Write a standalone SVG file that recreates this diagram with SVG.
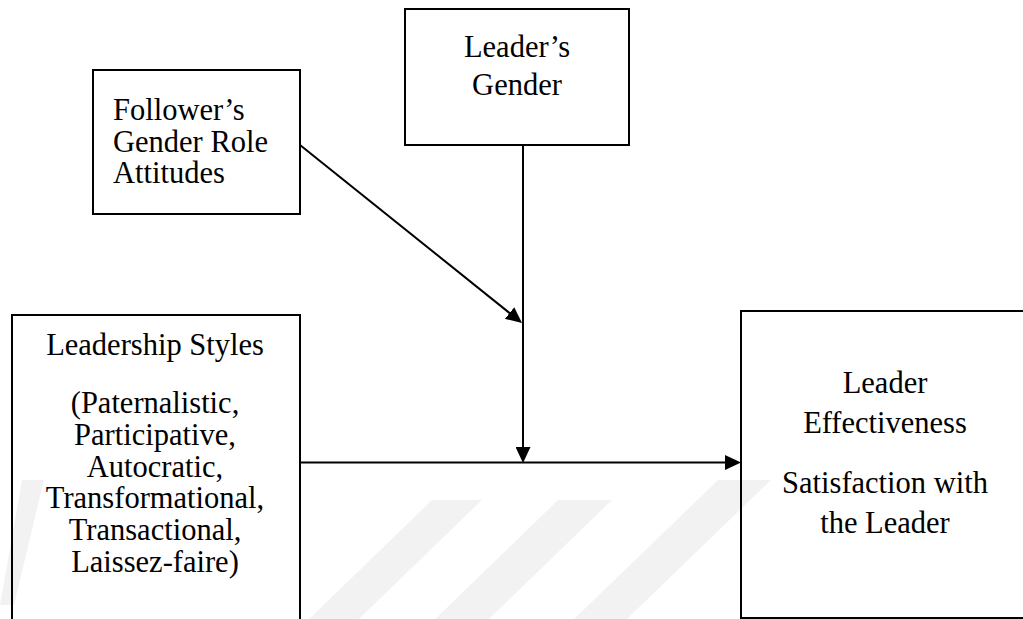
<svg xmlns="http://www.w3.org/2000/svg" width="1023" height="619" viewBox="0 0 1023 619">
  <style>
    .box { fill: none; stroke: #000; stroke-width: 2; }
    .lbl { font-family: "Liberation Serif", "Times New Roman", serif; font-size: 30.5px; fill: #000; }
    .mid { text-anchor: middle; }
    .conn { stroke: #000; stroke-width: 2; fill: none; }
    .wm { fill: #000; fill-opacity: 0.05; }
  </style>
  <defs>
    <marker id="arrow" viewBox="0 0 16 15" refX="8" refY="7.5" markerWidth="16" markerHeight="15" markerUnits="userSpaceOnUse" orient="auto">
      <path d="M0,0 L16,7.5 L0,15 Z" fill="#000"/>
    </marker>
  </defs>
  <rect x="0" y="0" width="1023" height="619" fill="#fff"/>
  <g id="watermark">
    <polygon class="wm" points="432,500 482,500 358,620 308,620"/>
    <polygon class="wm" points="558,500 612,500 488,620 434,620"/>
    <polygon class="wm" points="718,480 771,480 626,620 573,620"/>
    <polygon class="wm" points="22,480 44,480 14,605 0,605"/>
  </g>
  <g id="node-follower">
    <rect class="box" x="93" y="70" width="207" height="144"/>
    <text class="lbl" x="113" y="120">Follower’s</text>
    <text class="lbl" x="113" y="152">Gender Role</text>
    <text class="lbl" x="113" y="183">Attitudes</text>
  </g>
  <g id="node-leader-gender">
    <rect class="box" x="405" y="9" width="224" height="136"/>
    <text class="lbl mid" x="517" y="57">Leader’s</text>
    <text class="lbl mid" x="517" y="95">Gender</text>
  </g>
  <g id="node-leadership-styles">
    <rect class="box" x="12" y="315" width="288" height="320"/>
    <text class="lbl mid" x="155" y="355">Leadership Styles</text>
    <text class="lbl mid" x="155" y="413">(Paternalistic,</text>
    <text class="lbl mid" x="155" y="445">Participative,</text>
    <text class="lbl mid" x="155" y="477">Autocratic,</text>
    <text class="lbl mid" x="155" y="508">Transformational,</text>
    <text class="lbl mid" x="155" y="540">Transactional,</text>
    <text class="lbl mid" x="155" y="572">Laissez-faire)</text>
  </g>
  <g id="node-leader-effectiveness">
    <rect class="box" x="741" y="311" width="300" height="307"/>
    <text class="lbl mid" x="885" y="393">Leader</text>
    <text class="lbl mid" x="885" y="433">Effectiveness</text>
    <text class="lbl mid" x="885" y="493">Satisfaction with</text>
    <text class="lbl mid" x="885" y="533">the Leader</text>
  </g>
  <g id="connectors">
    <line class="conn" x1="300" y1="145" x2="515.8" y2="318" marker-end="url(#arrow)"/>
    <line class="conn" x1="523" y1="145" x2="523" y2="455" marker-end="url(#arrow)"/>
    <line class="conn" x1="300" y1="462.5" x2="733" y2="462.5" marker-end="url(#arrow)"/>
  </g>
</svg>
